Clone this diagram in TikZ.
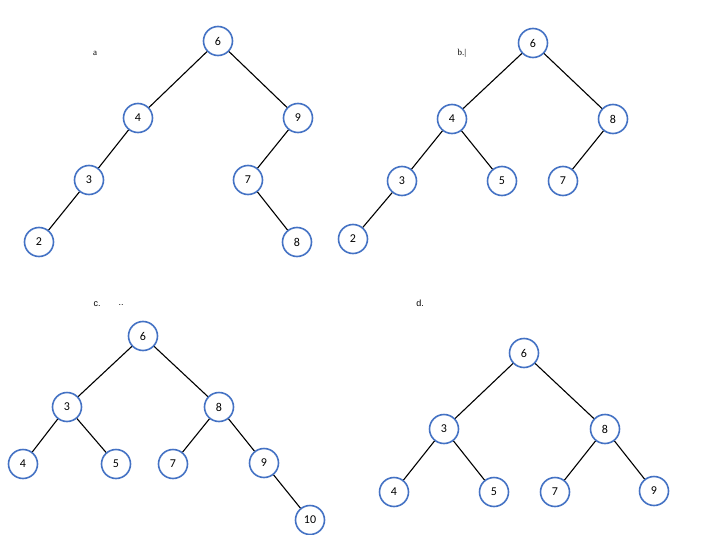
\documentclass[tikz,border=0pt]{standalone}
\usepackage{fontspec}
\setmainfont{Liberation Serif}
\newfontfamily\nodefont{Carlito}
\newfontfamily\labsans{Liberation Sans}
\definecolor{nodeblue}{HTML}{4472C4}
\begin{document}
\begin{tikzpicture}[x=1pt,y=-1pt,
  tn/.style={circle,draw=nodeblue,line width=1.6pt,fill=white,minimum size=29pt,inner sep=0pt,font=\nodefont\fontsize{12}{13}\selectfont},
  ed/.style={line width=1.1pt,black},
  lab/.style={font=\fontsize{9}{10}\selectfont,inner sep=0pt},
  labs/.style={font=\labsans\fontsize{9}{10}\selectfont,inner sep=0pt}]
\useasboundingbox (0,0) rectangle (704,535);
% tree a
\node[tn] (a6) at (218,41) {6};
\node[tn] (a4) at (138,118) {4};
\node[tn] (a9) at (298,118) {9};
\node[tn] (a3) at (89,180) {3};
\node[tn] (a7) at (248,180) {7};
\node[tn] (a2) at (39,242) {2};
\node[tn] (a8) at (297,242) {8};
\draw[ed] (a6)--(a4) (a6)--(a9) (a4)--(a3) (a3)--(a2) (a9)--(a7) (a7)--(a8);
\node[lab] (la) at (95,53) {a};
% tree b
\node[tn] (b6) at (533,43) {6};
\node[tn] (b4) at (452,119) {4};
\node[tn] (b8) at (613,119) {8};
\node[tn] (b3) at (402,181) {3};
\node[tn] (b5) at (502,181) {5};
\node[tn] (b7) at (563,181) {7};
\node[tn] (b2) at (353,239) {2};
\draw[ed] (b6)--(b4) (b6)--(b8) (b4)--(b3) (b4)--(b5) (b3)--(b2) (b8)--(b7);
\node[lab] (lb) at (462,53) {b.|};
% tree c
\node[tn] (c6) at (143,336) {6};
\node[tn] (c3) at (67,407) {3};
\node[tn] (c8) at (219,407) {8};
\node[tn] (c4) at (23,464) {4};
\node[tn] (c5) at (116,464) {5};
\node[tn] (c7) at (173,464) {7};
\node[tn] (c9) at (264,463) {9};
\node[tn] (c10) at (310,520) {10};
\draw[ed] (c6)--(c3) (c6)--(c8) (c3)--(c4) (c3)--(c5) (c8)--(c7) (c8)--(c9) (c9)--(c10);
\node[labs] (lc) at (97,304) {c.};
\node[labs] (lc2) at (121,305) {..};
% tree d
\node[tn] (d6) at (524,353) {6};
\node[tn] (d3) at (444,429) {3};
\node[tn] (d8) at (605,429) {8};
\node[tn] (d4) at (394,492) {4};
\node[tn] (d5) at (494,492) {5};
\node[tn] (d7) at (555,492) {7};
\node[tn] (d9) at (654,491) {9};
\draw[ed] (d6)--(d3) (d6)--(d8) (d3)--(d4) (d3)--(d5) (d8)--(d7) (d8)--(d9);
\node[labs] (ld) at (420,303) {d.};
\end{tikzpicture}
\end{document}
